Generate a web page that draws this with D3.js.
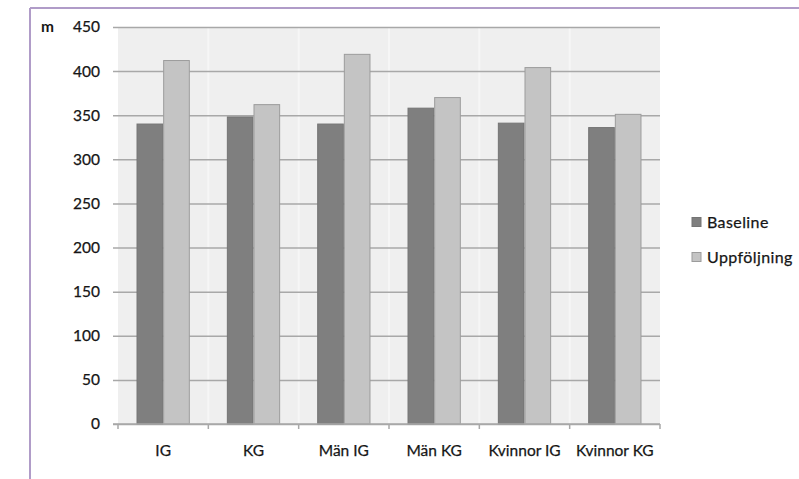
<!DOCTYPE html>
<html>
<head>
<meta charset="utf-8">
<script src="https://cdn.jsdelivr.net/npm/d3@7"></script>
<style>
  html, body { margin: 0; padding: 0; background: #ffffff; }
  svg { display: block; }
  text { font-family: Lato, "Open Sans", sans-serif; }
</style>
</head>
<body>
<svg id="chart" width="799" height="479"></svg>
<script>
const categories = ["IG", "KG", "Män IG", "Män KG", "Kvinnor IG", "Kvinnor KG"];
const seriesNames = ["Baseline", "Uppföljning"];
const baseline = [340, 348, 340, 358, 341, 336];
const uppfoljning = [412, 362, 419, 370, 404, 351];
const yTicks = [0, 50, 100, 150, 200, 250, 300, 350, 400, 450];
const unitLabel = "m";

const colors = { "Baseline": "#7f7f7f", "Uppföljning": "#c4c4c4" };
const strokes = { "Baseline": "#747474", "Uppföljning": "#9c9c9c" };
const textColor = "#161616";
const fontSize = "15.5px";

const svg = d3.select("#chart");
const W = 799, H = 479;

// purple frame
svg.append("line").attr("x1", 30).attr("x2", W).attr("y1", 8).attr("y2", 8)
  .attr("stroke", "#b09cc8").attr("stroke-width", 2);
svg.append("line").attr("x1", 30).attr("x2", 30).attr("y1", 8).attr("y2", H)
  .attr("stroke", "#b09cc8").attr("stroke-width", 2);

const plot = { left: 118, right: 660, top: 27, bottom: 424 };

const x = d3.scaleBand().domain(categories).range([plot.left, plot.right]).paddingInner(0).paddingOuter(0);
const y = d3.scaleLinear().domain([0, 450]).range([plot.bottom, plot.top]);

// background
svg.append("rect").attr("x", plot.left).attr("y", plot.top)
  .attr("width", plot.right - plot.left).attr("height", plot.bottom - plot.top)
  .attr("fill", "#efefef");

// vertical faint lines at category boundaries
svg.append("g").selectAll("line").data(categories.slice(1)).join("line")
  .attr("x1", d => x(d)).attr("x2", d => x(d))
  .attr("y1", plot.top).attr("y2", plot.bottom)
  .attr("stroke", "#f6f6f6").attr("stroke-width", 2);

// horizontal gridlines via axis
const yAxis = d3.axisLeft(y).tickValues(yTicks).tickSize(-(plot.right - plot.left + 5)).tickPadding(13);
const gy = svg.append("g").attr("transform", `translate(${plot.left - 5},0)`).call(yAxis);
gy.select(".domain").remove();
gy.selectAll(".tick line").attr("stroke", "#a8a8a8").attr("stroke-width", 1.5);
gy.selectAll(".tick text").attr("font-size", fontSize).attr("fill", textColor)
  .attr("stroke", textColor).attr("stroke-width", 0.25)
  .attr("font-family", "Lato, sans-serif");

// unit label
svg.append("text").attr("x", 41).attr("y", 32).text(unitLabel)
  .attr("font-size", "15.5px").attr("font-weight", "bold").attr("fill", textColor);

// bars
const barW = x.bandwidth() * 0.295;
const groupOffset = (x.bandwidth() - 2 * barW) / 2;
const xs = d3.scaleBand().domain(seriesNames).range([groupOffset, groupOffset + 2 * barW]).padding(0);
const data = categories.map((c, i) => ({ c, vals: [baseline[i], uppfoljning[i]] }));

const groups = svg.append("g").selectAll("g").data(data).join("g")
  .attr("transform", d => `translate(${x(d.c)},0)`);
groups.selectAll("rect").data(d => d.vals.map((v, j) => ({ s: seriesNames[j], v }))).join("rect")
  .attr("x", d => xs(d.s) + 0.5)
  .attr("width", xs.bandwidth() - 1)
  .attr("y", d => y(d.v))
  .attr("height", d => y(0) - y(d.v))
  .attr("fill", d => colors[d.s])
  .attr("stroke", d => strokes[d.s]).attr("stroke-width", 1);

// x axis
const xAxis = d3.axisBottom(x).tickSize(0).tickPadding(21);
const gx = svg.append("g").attr("transform", `translate(0,${plot.bottom})`).call(xAxis);
gx.select(".domain").remove();
gx.selectAll(".tick text").attr("font-size", fontSize).attr("fill", textColor)
  .attr("stroke", textColor).attr("stroke-width", 0.25)
  .attr("font-family", "Lato, sans-serif");
svg.append("line").attr("x1", plot.left - 5).attr("x2", plot.right)
  .attr("y1", plot.bottom).attr("y2", plot.bottom)
  .attr("stroke", "#a8a8a8").attr("stroke-width", 1.5);
// boundary tick marks
svg.append("g").selectAll("line").data(categories.concat(["__end"])).join("line")
  .attr("x1", d => d === "__end" ? plot.right : x(d))
  .attr("x2", d => d === "__end" ? plot.right : x(d))
  .attr("y1", plot.bottom).attr("y2", plot.bottom + 5)
  .attr("stroke", "#a8a8a8").attr("stroke-width", 1.5);

// legend
const legend = svg.append("g").attr("transform", "translate(692,0)");
const ly = [222, 257];
seriesNames.forEach((s, i) => {
  legend.append("rect").attr("x", 0).attr("y", ly[i] - 4.5).attr("width", 9).attr("height", 9)
    .attr("fill", colors[s]).attr("stroke", strokes[s]);
  legend.append("text").attr("x", 15).attr("y", ly[i]).attr("dy", "0.35em")
    .text(s).attr("font-size", "16px").attr("letter-spacing", "0.4px")
    .attr("fill", textColor).attr("stroke", textColor).attr("stroke-width", 0.25);
});
</script>
</body>
</html>
